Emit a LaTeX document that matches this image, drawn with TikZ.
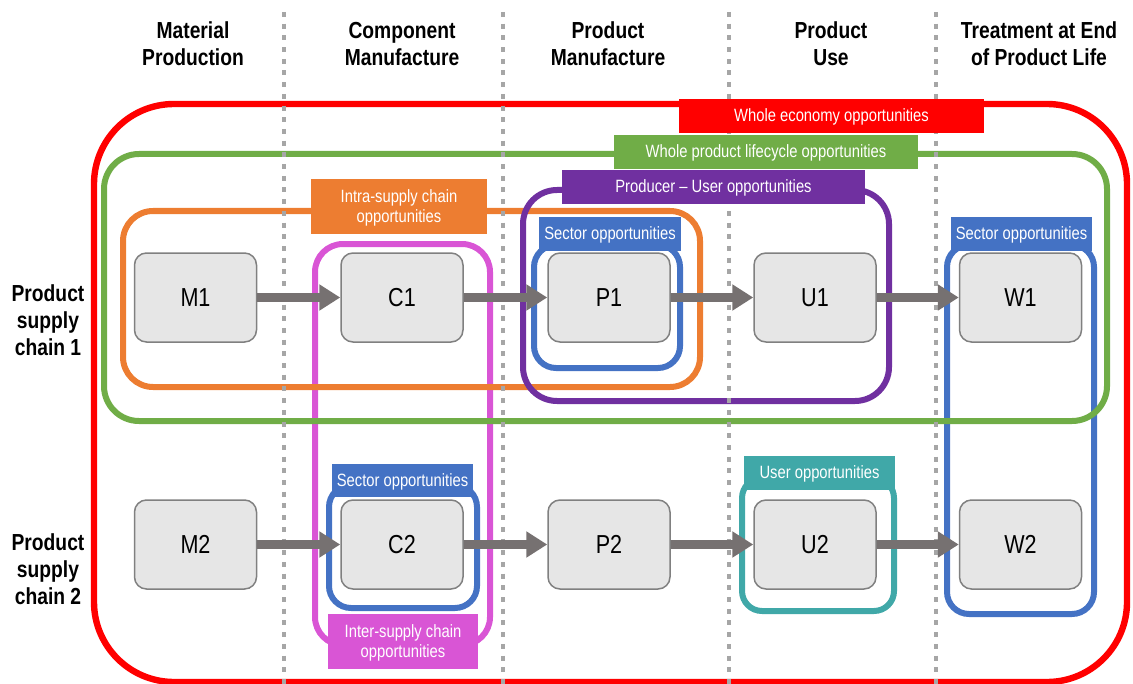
\documentclass[tikz,border=0pt]{standalone}
\usepackage{fontspec}
\setmainfont[FakeStretch=0.83]{Liberation Sans}
\usetikzlibrary{arrows.meta}
\definecolor{econ}{HTML}{FF0000}
\definecolor{life}{HTML}{70AD47}
\definecolor{intra}{HTML}{ED7D31}
\definecolor{produser}{HTML}{7030A0}
\definecolor{inter}{HTML}{D955D5}
\definecolor{sector}{HTML}{4472C4}
\definecolor{user}{HTML}{40A8A8}
\definecolor{flowgray}{HTML}{767171}
\definecolor{stagefill}{HTML}{E6E6E6}
\definecolor{stageline}{HTML}{808080}
\definecolor{divider}{HTML}{A6A6A6}
\tikzstyle{stage}=[draw=stageline, fill=stagefill, line width=0.75pt, rounded corners=6pt,
    minimum width=61pt, minimum height=44.5pt, inner sep=0pt, font=\fontsize{13}{14}\selectfont]
\tikzstyle{flow}=[draw=flowgray, line width=4.5pt, -{Triangle[width=12.5pt,length=10.5pt]}]
\tikzstyle{frame}=[line width=3pt]
\tikzstyle{tag}=[text=white, align=center, inner sep=0pt, yshift=-0.6pt, font=\fontsize{8.9}{10}\selectfont]
\tikzstyle{heading}=[align=center, inner sep=0pt, font=\bfseries\fontsize{11.6}{13.5}\selectfont]
\tikzstyle{divider line}=[draw=divider, line width=2.25pt, dash pattern=on 2.5pt off 3.35pt]

\begin{document}
\begin{tikzpicture}[x=0.5pt, y=-0.5pt]
    \useasboundingbox (0,0) rectangle (1133,684);
    % opportunity frames
    \draw[frame, inter, rounded corners=14pt] (315,244) rectangle (490,645);
    \draw[frame, sector, rounded corners=11pt] (534,245) rectangle (680,368);
    \draw[frame, sector, rounded corners=11pt] (329,485) rectangle (477,608);
    \draw[frame, sector, rounded corners=11pt] (947,245) rectangle (1094,614);
    \draw[frame, user, rounded corners=10pt] (742,478) rectangle (894,611);
    \draw[frame, intra, rounded corners=15pt] (123,211) rectangle (700,387);
    \draw[frame, produser, rounded corners=17pt] (523,190) rectangle (889,401);
    \draw[frame, life, rounded corners=17.5pt] (104,154) rectangle (1107,421);
    \draw[frame, econ, line width=3.2pt, rounded corners=40pt] (94,104) rectangle (1127,682);
    \foreach \x in {284,503,729,936}
      \draw[divider line] (\x,12) -- (\x,684);
    % tags
    \fill[econ] (679,99) rectangle (984,133) node[tag, pos=.5] (econtag) {Whole economy opportunities};
    \fill[life] (614,135) rectangle (918,169) node[tag, pos=.5] (lifetag) {Whole product lifecycle opportunities};
    \fill[produser] (562,170) rectangle (865,204) node[tag, pos=.5] (produsertag) {Producer -- User opportunities};
    \fill[intra] (311,179) rectangle (487,234) node[tag, pos=.5] (intratag) {Intra-supply chain\\opportunities};
    \fill[sector] (539,217) rectangle (681,251) node[tag, pos=.5] (sectortagP) {Sector opportunities};
    \fill[sector] (951,217) rectangle (1092,251) node[tag, pos=.5] (sectortagW) {Sector opportunities};
    \fill[sector] (332,464) rectangle (473,497) node[tag, pos=.5] (sectortagC) {Sector opportunities};
    \fill[user] (744,456) rectangle (895,490) node[tag, pos=.5] (usertag) {User opportunities};
    \fill[inter] (328,614) rectangle (478,669) node[tag, pos=.5] (intertag) {Inter-supply chain\\opportunities};
    % headings
    \node[heading] (matprod) at (193,44) {Material\\Production};
    \node[heading] (compman) at (402,44) {Component\\Manufacture};
    \node[heading] (prodman) at (608,44) {Product\\Manufacture};
    \node[heading] (produse) at (831,44) {Product\\Use};
    \node[heading] (endlife) at (1039,44) {Treatment at End\\of Product Life};
    \node[heading] (chain1) at (48,320) {Product\\supply\\chain 1};
    \node[heading] (chain2) at (48,569) {Product\\supply\\chain 2};
    % stages
    \foreach \s/\x in {M/195.5,C/402,P/609,U/815,W/1020.5} {
      \node[stage] (\s1) at (\x,297.5) {\s1};
      \node[stage] (\s2) at (\x,544.5) {\s2};
    }
    \foreach \a/\b in {M/C,C/P,P/U,U/W} {
      \draw[flow] (\a1) -- (\b1);
      \draw[flow] (\a2) -- (\b2);
    }
\end{tikzpicture}
\end{document}
